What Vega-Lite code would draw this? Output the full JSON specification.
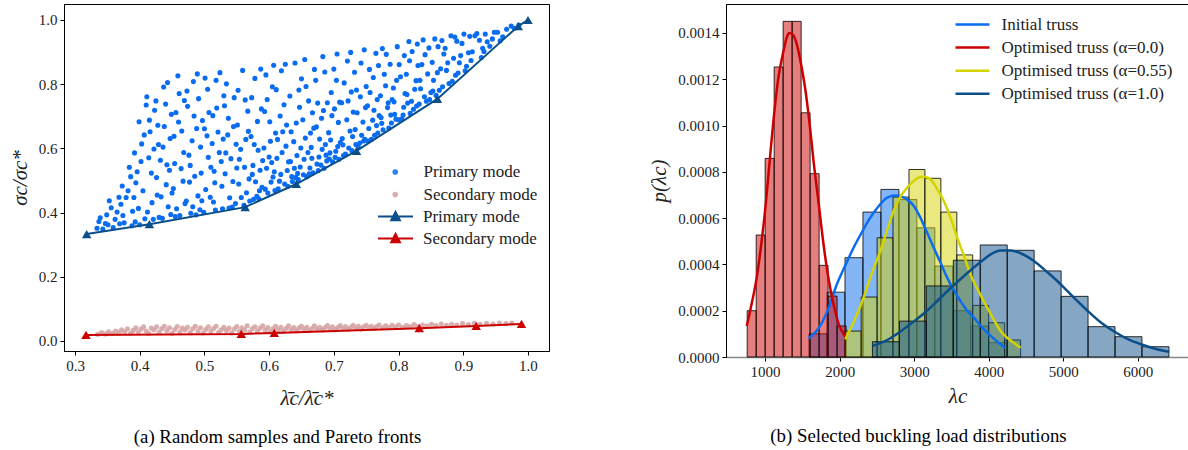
{
"$schema": "https://vega.github.io/schema/vega-lite/v6.json",
"padding": {"left": 8, "top": 3, "right": 0, "bottom": 0},
"bounds": "flush",
"spacing": 177,
"resolve": {"scale": {"color": "independent", "stroke": "independent", "fill": "independent"}},
"config": {
 "font": "Liberation Serif",
 "view": {"stroke": "black", "strokeWidth": 1},
 "style": {"guide-label": {"font": "Liberation Serif"}, "guide-title": {"font": "Liberation Serif"}},
 "axis": {"grid": false, "domainColor": "black", "domainWidth": 1, "tickColor": "black", "tickSize": 4, "labelFont": "Liberation Serif", "labelFontSize": 15, "labelColor": "#222", "labelPadding": 3, "titleFont": "Liberation Serif", "titleFontSize": 21, "titleFontWeight": "normal", "titleFontStyle": "italic", "titleColor": "#222"},
 "legend": {"labelFont": "Liberation Serif", "labelFontSize": 17, "labelColor": "#222", "labelLimit": 400},
 "title": {"font": "Liberation Serif", "fontSize": 18.8, "fontWeight": "normal", "color": "black"}
},
"datasets": {
 "prim": [
{"x":0.334,"y":0.351},{"x":0.347,"y":0.366},{"x":0.339,"y":0.384},{"x":0.343,"y":0.349},{"x":0.349,"y":0.393},{"x":0.337,"y":0.372},
{"x":0.356,"y":0.415},{"x":0.351,"y":0.362},{"x":0.368,"y":0.448},{"x":0.362,"y":0.379},{"x":0.359,"y":0.353},{"x":0.365,"y":0.402},{"x":0.353,"y":0.437},{"x":0.369,"y":0.365},
{"x":0.382,"y":0.468},{"x":0.374,"y":0.391},{"x":0.388,"y":0.359},{"x":0.371,"y":0.426},{"x":0.386,"y":0.512},{"x":0.379,"y":0.447},{"x":0.376,"y":0.368},{"x":0.389,"y":0.404},{"x":0.384,"y":0.541},{"x":0.373,"y":0.483},
{"x":0.403,"y":0.614},{"x":0.391,"y":0.447},{"x":0.408,"y":0.381},{"x":0.396,"y":0.527},{"x":0.399,"y":0.683},{"x":0.393,"y":0.371},{"x":0.405,"y":0.468},{"x":0.410,"y":0.735},{"x":0.398,"y":0.413},{"x":0.402,"y":0.559},{"x":0.394,"y":0.493},{"x":0.407,"y":0.642},{"x":0.400,"y":0.362},{"x":0.392,"y":0.586},
{"x":0.418,"y":0.523},{"x":0.425,"y":0.748},{"x":0.412,"y":0.402},{"x":0.429,"y":0.612},{"x":0.415,"y":0.688},{"x":0.421,"y":0.379},{"x":0.427,"y":0.455},{"x":0.414,"y":0.571},{"x":0.423,"y":0.719},{"x":0.419,"y":0.431},{"x":0.430,"y":0.385},{"x":0.416,"y":0.652},{"x":0.426,"y":0.509},{"x":0.411,"y":0.761},{"x":0.428,"y":0.672},{"x":0.422,"y":0.598},
{"x":0.437,"y":0.791},{"x":0.444,"y":0.418},{"x":0.432,"y":0.563},{"x":0.449,"y":0.706},{"x":0.441,"y":0.487},{"x":0.435,"y":0.382},{"x":0.447,"y":0.631},{"x":0.438,"y":0.668},{"x":0.443,"y":0.805},{"x":0.433,"y":0.449},{"x":0.446,"y":0.532},{"x":0.440,"y":0.738},{"x":0.448,"y":0.394},{"x":0.436,"y":0.604},{"x":0.442,"y":0.549},{"x":0.450,"y":0.461},
{"x":0.456,"y":0.712},{"x":0.462,"y":0.391},{"x":0.468,"y":0.587},{"x":0.452,"y":0.475},{"x":0.459,"y":0.826},{"x":0.465,"y":0.654},{"x":0.454,"y":0.553},{"x":0.470,"y":0.428},{"x":0.461,"y":0.771},{"x":0.457,"y":0.412},{"x":0.467,"y":0.498},{"x":0.453,"y":0.638},{"x":0.464,"y":0.537},{"x":0.469,"y":0.749},{"x":0.455,"y":0.388},{"x":0.460,"y":0.682},
{"x":0.476,"y":0.579},{"x":0.483,"y":0.808},{"x":0.472,"y":0.436},{"x":0.488,"y":0.662},{"x":0.479,"y":0.398},{"x":0.485,"y":0.513},{"x":0.474,"y":0.731},{"x":0.490,"y":0.452},{"x":0.481,"y":0.624},{"x":0.477,"y":0.495},{"x":0.487,"y":0.393},{"x":0.473,"y":0.779},{"x":0.484,"y":0.701},{"x":0.478,"y":0.547},{"x":0.489,"y":0.832},{"x":0.482,"y":0.418},
{"x":0.497,"y":0.687},{"x":0.493,"y":0.409},{"x":0.506,"y":0.572},{"x":0.501,"y":0.819},{"x":0.509,"y":0.448},{"x":0.495,"y":0.523},{"x":0.504,"y":0.639},{"x":0.491,"y":0.755},{"x":0.499,"y":0.401},{"x":0.507,"y":0.712},{"x":0.494,"y":0.604},{"x":0.502,"y":0.472},{"x":0.510,"y":0.541},{"x":0.496,"y":0.437},{"x":0.505,"y":0.784},{"x":0.500,"y":0.661},
{"x":0.516,"y":0.493},{"x":0.524,"y":0.836},{"x":0.512,"y":0.615},{"x":0.528,"y":0.412},{"x":0.519,"y":0.726},{"x":0.526,"y":0.559},{"x":0.514,"y":0.433},{"x":0.521,"y":0.651},{"x":0.530,"y":0.764},{"x":0.517,"y":0.408},{"x":0.527,"y":0.482},{"x":0.513,"y":0.702},{"x":0.523,"y":0.587},{"x":0.518,"y":0.812},{"x":0.529,"y":0.629},{"x":0.515,"y":0.529},
{"x":0.537,"y":0.694},{"x":0.543,"y":0.417},{"x":0.532,"y":0.521},{"x":0.549,"y":0.613},{"x":0.539,"y":0.446},{"x":0.546,"y":0.758},{"x":0.534,"y":0.801},{"x":0.541,"y":0.568},{"x":0.548,"y":0.428},{"x":0.536,"y":0.642},{"x":0.544,"y":0.497},{"x":0.531,"y":0.733},{"x":0.550,"y":0.539},{"x":0.538,"y":0.414},{"x":0.545,"y":0.668},{"x":0.533,"y":0.586},
{"x":0.557,"y":0.447},{"x":0.564,"y":0.628},{"x":0.552,"y":0.781},{"x":0.569,"y":0.505},{"x":0.561,"y":0.423},{"x":0.554,"y":0.566},{"x":0.567,"y":0.716},{"x":0.559,"y":0.843},{"x":0.565,"y":0.462},{"x":0.551,"y":0.673},{"x":0.562,"y":0.541},{"x":0.570,"y":0.436},{"x":0.556,"y":0.597},{"x":0.568,"y":0.653},{"x":0.553,"y":0.489},{"x":0.563,"y":0.751},
{"x":0.574,"y":0.519},{"x":0.581,"y":0.451},{"x":0.588,"y":0.723},{"x":0.572,"y":0.637},{"x":0.585,"y":0.468},{"x":0.578,"y":0.818},{"x":0.590,"y":0.562},{"x":0.576,"y":0.441},{"x":0.583,"y":0.594},{"x":0.579,"y":0.496},{"x":0.587,"y":0.847},{"x":0.573,"y":0.758},{"x":0.582,"y":0.684},{"x":0.589,"y":0.479},{"x":0.575,"y":0.547},{"x":0.584,"y":0.443},{"x":0.577,"y":0.612},{"x":0.586,"y":0.532},
{"x":0.594,"y":0.473},{"x":0.601,"y":0.683},{"x":0.608,"y":0.527},{"x":0.592,"y":0.601},{"x":0.605,"y":0.792},{"x":0.598,"y":0.461},{"x":0.610,"y":0.648},{"x":0.596,"y":0.538},{"x":0.603,"y":0.495},{"x":0.607,"y":0.859},{"x":0.593,"y":0.715},{"x":0.600,"y":0.573},{"x":0.609,"y":0.469},{"x":0.595,"y":0.829},{"x":0.602,"y":0.622},{"x":0.606,"y":0.511},{"x":0.597,"y":0.752},{"x":0.604,"y":0.556},
{"x":0.616,"y":0.498},{"x":0.623,"y":0.736},{"x":0.612,"y":0.569},{"x":0.629,"y":0.482},{"x":0.619,"y":0.842},{"x":0.626,"y":0.607},{"x":0.614,"y":0.474},{"x":0.621,"y":0.652},{"x":0.628,"y":0.531},{"x":0.617,"y":0.701},{"x":0.624,"y":0.489},{"x":0.611,"y":0.783},{"x":0.630,"y":0.558},{"x":0.618,"y":0.519},{"x":0.625,"y":0.862},{"x":0.613,"y":0.628},{"x":0.627,"y":0.673},{"x":0.620,"y":0.587},
{"x":0.635,"y":0.512},{"x":0.642,"y":0.679},{"x":0.648,"y":0.542},{"x":0.632,"y":0.763},{"x":0.645,"y":0.503},{"x":0.638,"y":0.621},{"x":0.650,"y":0.817},{"x":0.636,"y":0.497},{"x":0.643,"y":0.578},{"x":0.647,"y":0.728},{"x":0.633,"y":0.559},{"x":0.640,"y":0.866},{"x":0.649,"y":0.601},{"x":0.634,"y":0.652},{"x":0.644,"y":0.522},{"x":0.639,"y":0.538},{"x":0.646,"y":0.782},{"x":0.641,"y":0.509},
{"x":0.654,"y":0.566},{"x":0.661,"y":0.748},{"x":0.668,"y":0.524},{"x":0.652,"y":0.689},{"x":0.665,"y":0.603},{"x":0.658,"y":0.512},{"x":0.670,"y":0.846},{"x":0.656,"y":0.632},{"x":0.663,"y":0.539},{"x":0.667,"y":0.711},{"x":0.653,"y":0.518},{"x":0.660,"y":0.587},{"x":0.669,"y":0.663},{"x":0.655,"y":0.877},{"x":0.662,"y":0.521},{"x":0.666,"y":0.569},{"x":0.657,"y":0.793},{"x":0.664,"y":0.648},
{"x":0.674,"y":0.551},{"x":0.681,"y":0.694},{"x":0.688,"y":0.579},{"x":0.672,"y":0.812},{"x":0.685,"y":0.538},{"x":0.678,"y":0.629},{"x":0.690,"y":0.742},{"x":0.676,"y":0.531},{"x":0.683,"y":0.886},{"x":0.687,"y":0.612},{"x":0.673,"y":0.667},{"x":0.680,"y":0.548},{"x":0.689,"y":0.561},{"x":0.675,"y":0.741},{"x":0.682,"y":0.597},{"x":0.686,"y":0.838},{"x":0.677,"y":0.573},{"x":0.684,"y":0.718},
{"x":0.694,"y":0.586},{"x":0.701,"y":0.723},{"x":0.708,"y":0.566},{"x":0.692,"y":0.649},{"x":0.705,"y":0.894},{"x":0.698,"y":0.558},{"x":0.710,"y":0.618},{"x":0.696,"y":0.774},{"x":0.703,"y":0.591},{"x":0.707,"y":0.681},{"x":0.693,"y":0.567},{"x":0.700,"y":0.847},{"x":0.709,"y":0.744},{"x":0.695,"y":0.626},{"x":0.702,"y":0.572},{"x":0.706,"y":0.606},{"x":0.697,"y":0.702},{"x":0.704,"y":0.812},
{"x":0.714,"y":0.611},{"x":0.721,"y":0.872},{"x":0.728,"y":0.593},{"x":0.712,"y":0.742},{"x":0.725,"y":0.654},{"x":0.718,"y":0.582},{"x":0.730,"y":0.713},{"x":0.716,"y":0.804},{"x":0.723,"y":0.601},{"x":0.727,"y":0.776},{"x":0.713,"y":0.631},{"x":0.720,"y":0.689},{"x":0.729,"y":0.637},{"x":0.715,"y":0.578},{"x":0.722,"y":0.748},{"x":0.726,"y":0.899},
{"x":0.734,"y":0.612},{"x":0.741,"y":0.761},{"x":0.748,"y":0.628},{"x":0.732,"y":0.837},{"x":0.745,"y":0.682},{"x":0.738,"y":0.603},{"x":0.750,"y":0.793},{"x":0.736,"y":0.711},{"x":0.743,"y":0.641},{"x":0.747,"y":0.907},{"x":0.733,"y":0.659},{"x":0.740,"y":0.617},{"x":0.749,"y":0.727},{"x":0.735,"y":0.782},{"x":0.742,"y":0.866},{"x":0.746,"y":0.623},
{"x":0.754,"y":0.662},{"x":0.761,"y":0.821},{"x":0.768,"y":0.648},{"x":0.752,"y":0.733},{"x":0.765,"y":0.896},{"x":0.758,"y":0.628},{"x":0.770,"y":0.702},{"x":0.756,"y":0.774},{"x":0.763,"y":0.641},{"x":0.767,"y":0.752},{"x":0.753,"y":0.623},{"x":0.760,"y":0.688},{"x":0.769,"y":0.858},{"x":0.755,"y":0.846},{"x":0.762,"y":0.719},{"x":0.766,"y":0.671},
{"x":0.774,"y":0.678},{"x":0.781,"y":0.893},{"x":0.788,"y":0.704},{"x":0.772,"y":0.764},{"x":0.785,"y":0.663},{"x":0.778,"y":0.831},{"x":0.790,"y":0.752},{"x":0.776,"y":0.658},{"x":0.783,"y":0.727},{"x":0.787,"y":0.862},{"x":0.773,"y":0.696},{"x":0.780,"y":0.795},{"x":0.789,"y":0.679},{"x":0.775,"y":0.911},{"x":0.784,"y":0.742},
{"x":0.794,"y":0.706},{"x":0.801,"y":0.861},{"x":0.808,"y":0.728},{"x":0.792,"y":0.788},{"x":0.805,"y":0.692},{"x":0.798,"y":0.917},{"x":0.810,"y":0.771},{"x":0.796,"y":0.691},{"x":0.803,"y":0.823},{"x":0.807,"y":0.704},{"x":0.793,"y":0.745},{"x":0.800,"y":0.689},{"x":0.809,"y":0.889},{"x":0.797,"y":0.812},
{"x":0.814,"y":0.741},{"x":0.821,"y":0.902},{"x":0.828,"y":0.732},{"x":0.812,"y":0.831},{"x":0.825,"y":0.784},{"x":0.818,"y":0.709},{"x":0.830,"y":0.858},{"x":0.816,"y":0.933},{"x":0.823,"y":0.722},{"x":0.827,"y":0.811},{"x":0.813,"y":0.768},{"x":0.820,"y":0.747},{"x":0.829,"y":0.925},{"x":0.817,"y":0.873},
{"x":0.834,"y":0.786},{"x":0.841,"y":0.892},{"x":0.848,"y":0.752},{"x":0.832,"y":0.738},{"x":0.845,"y":0.832},{"x":0.838,"y":0.938},{"x":0.850,"y":0.774},{"x":0.836,"y":0.861},{"x":0.843,"y":0.747},{"x":0.847,"y":0.913},{"x":0.833,"y":0.812},{"x":0.840,"y":0.761},
{"x":0.854,"y":0.812},{"x":0.861,"y":0.917},{"x":0.868,"y":0.792},{"x":0.852,"y":0.868},{"x":0.865,"y":0.848},{"x":0.858,"y":0.765},{"x":0.870,"y":0.894},{"x":0.856,"y":0.941},{"x":0.863,"y":0.781},{"x":0.867,"y":0.936},{"x":0.853,"y":0.779},{"x":0.860,"y":0.836},
{"x":0.874,"y":0.843},{"x":0.881,"y":0.951},{"x":0.888,"y":0.828},{"x":0.872,"y":0.912},{"x":0.885,"y":0.881},{"x":0.878,"y":0.802},{"x":0.890,"y":0.934},{"x":0.876,"y":0.867},{"x":0.883,"y":0.809},{"x":0.887,"y":0.947},
{"x":0.894,"y":0.867},{"x":0.901,"y":0.956},{"x":0.908,"y":0.898},{"x":0.892,"y":0.835},{"x":0.905,"y":0.856},{"x":0.898,"y":0.927},{"x":0.910,"y":0.949},{"x":0.896,"y":0.889},{"x":0.903,"y":0.842},
{"x":0.914,"y":0.901},{"x":0.921,"y":0.958},{"x":0.928,"y":0.883},{"x":0.912,"y":0.874},{"x":0.925,"y":0.937},{"x":0.918,"y":0.951},{"x":0.930,"y":0.912},
{"x":0.934,"y":0.956},{"x":0.941,"y":0.918},{"x":0.948,"y":0.962},{"x":0.937,"y":0.932},{"x":0.945,"y":0.941},{"x":0.932,"y":0.902},
{"x":0.953,"y":0.962},{"x":0.961,"y":0.948},{"x":0.967,"y":0.971},{"x":0.957,"y":0.935},
{"x":0.974,"y":0.981},{"x":0.979,"y":0.974},{"x":0.986,"y":0.984}
 ],
 "sec": [
{"x":0.335,"y":0.021},{"x":0.341,"y":0.026},{"x":0.347,"y":0.022},{"x":0.352,"y":0.029},{"x":0.358,"y":0.024},{"x":0.363,"y":0.031},{"x":0.368,"y":0.026},{"x":0.372,"y":0.035},{"x":0.377,"y":0.029},{"x":0.381,"y":0.038},{"x":0.386,"y":0.024},{"x":0.390,"y":0.033},{"x":0.394,"y":0.041},{"x":0.398,"y":0.028},{"x":0.402,"y":0.037},{"x":0.406,"y":0.044},{"x":0.410,"y":0.031},{"x":0.414,"y":0.023},{"x":0.418,"y":0.040},{"x":0.422,"y":0.035},{"x":0.426,"y":0.044},{"x":0.430,"y":0.027},{"x":0.434,"y":0.038},{"x":0.438,"y":0.046},{"x":0.442,"y":0.032},{"x":0.446,"y":0.041},{"x":0.450,"y":0.024},{"x":0.454,"y":0.036},{"x":0.458,"y":0.045},{"x":0.462,"y":0.029},{"x":0.466,"y":0.040},{"x":0.470,"y":0.034},{"x":0.474,"y":0.043},{"x":0.478,"y":0.026},{"x":0.482,"y":0.038},{"x":0.486,"y":0.046},{"x":0.490,"y":0.031},{"x":0.494,"y":0.041},{"x":0.498,"y":0.025},{"x":0.502,"y":0.036},{"x":0.506,"y":0.044},{"x":0.510,"y":0.030},{"x":0.514,"y":0.039},{"x":0.518,"y":0.046},{"x":0.522,"y":0.027},{"x":0.526,"y":0.035},{"x":0.530,"y":0.043},{"x":0.534,"y":0.032},{"x":0.538,"y":0.040},{"x":0.542,"y":0.025},{"x":0.546,"y":0.037},{"x":0.550,"y":0.045},{"x":0.554,"y":0.030},{"x":0.558,"y":0.041},{"x":0.562,"y":0.034},{"x":0.566,"y":0.047},{"x":0.570,"y":0.028},{"x":0.574,"y":0.038},{"x":0.578,"y":0.044},{"x":0.582,"y":0.031},{"x":0.586,"y":0.040},{"x":0.590,"y":0.047},{"x":0.594,"y":0.033},{"x":0.598,"y":0.042},{"x":0.602,"y":0.029},{"x":0.606,"y":0.038},{"x":0.610,"y":0.046},{"x":0.614,"y":0.034},{"x":0.618,"y":0.043},{"x":0.622,"y":0.030},{"x":0.626,"y":0.039},{"x":0.630,"y":0.047},{"x":0.634,"y":0.035},{"x":0.638,"y":0.042},{"x":0.642,"y":0.031},{"x":0.646,"y":0.040},{"x":0.650,"y":0.046},{"x":0.654,"y":0.035},{"x":0.658,"y":0.043},{"x":0.662,"y":0.032},{"x":0.666,"y":0.039},{"x":0.670,"y":0.047},{"x":0.674,"y":0.036},{"x":0.678,"y":0.043},{"x":0.682,"y":0.034},{"x":0.686,"y":0.041},{"x":0.690,"y":0.048},{"x":0.694,"y":0.037},{"x":0.698,"y":0.044},{"x":0.702,"y":0.035},{"x":0.706,"y":0.042},{"x":0.710,"y":0.048},{"x":0.714,"y":0.038},{"x":0.718,"y":0.045},{"x":0.722,"y":0.036},{"x":0.726,"y":0.043},{"x":0.730,"y":0.049},{"x":0.734,"y":0.039},{"x":0.738,"y":0.046},{"x":0.742,"y":0.037},{"x":0.746,"y":0.044},{"x":0.750,"y":0.049},{"x":0.754,"y":0.040},{"x":0.758,"y":0.046},{"x":0.762,"y":0.039},{"x":0.766,"y":0.045},{"x":0.770,"y":0.050},{"x":0.775,"y":0.041},{"x":0.780,"y":0.047},{"x":0.785,"y":0.042},{"x":0.790,"y":0.049},{"x":0.795,"y":0.044},{"x":0.800,"y":0.050},{"x":0.806,"y":0.043},{"x":0.812,"y":0.048},{"x":0.818,"y":0.045},{"x":0.824,"y":0.051},{"x":0.830,"y":0.046},{"x":0.837,"y":0.050},{"x":0.844,"y":0.047},{"x":0.851,"y":0.052},{"x":0.858,"y":0.048},{"x":0.866,"y":0.053},{"x":0.874,"y":0.049},{"x":0.882,"y":0.052},{"x":0.890,"y":0.050},{"x":0.899,"y":0.054},{"x":0.908,"y":0.051},{"x":0.917,"y":0.055},{"x":0.926,"y":0.052},{"x":0.936,"y":0.055},{"x":0.946,"y":0.053},{"x":0.956,"y":0.056},{"x":0.966,"y":0.054},{"x":0.975,"y":0.056}
 ],
 "fronts": [
{"s":"Primary mode front","x":0.318,"y":0.333},{"s":"Primary mode front","x":0.415,"y":0.364},{"s":"Primary mode front","x":0.563,"y":0.417},{"s":"Primary mode front","x":0.642,"y":0.489},{"s":"Primary mode front","x":0.735,"y":0.592},{"s":"Primary mode front","x":0.86,"y":0.754},{"s":"Primary mode front","x":0.985,"y":0.981},{"s":"Primary mode front","x":1.0,"y":1.0},
{"s":"Secondary mode front","x":0.317,"y":0.019},{"s":"Secondary mode front","x":0.557,"y":0.022},{"s":"Secondary mode front","x":0.608,"y":0.025},{"s":"Secondary mode front","x":0.832,"y":0.04},{"s":"Secondary mode front","x":0.92,"y":0.047},{"s":"Secondary mode front","x":0.99,"y":0.053}
 ],
 "hist": [
{"series":"Initial truss","x0":1590,"x1":1831,"d":0.0001},{"series":"Initial truss","x0":1831,"x1":2072,"d":0.00028},{"series":"Initial truss","x0":2072,"x1":2313,"d":0.000429},{"series":"Initial truss","x0":2313,"x1":2554,"d":0.000626},{"series":"Initial truss","x0":2554,"x1":2795,"d":0.000724},{"series":"Initial truss","x0":2795,"x1":3036,"d":0.00068},{"series":"Initial truss","x0":3036,"x1":3277,"d":0.000558},{"series":"Initial truss","x0":3277,"x1":3518,"d":0.000393},{"series":"Initial truss","x0":3518,"x1":3759,"d":0.0002},{"series":"Initial truss","x0":3759,"x1":4000,"d":0.000134},{"series":"Initial truss","x0":4000,"x1":4241,"d":0.000062},
{"series":"Optimised truss (α=0.0)","x0":760,"x1":881,"d":0.0002},{"series":"Optimised truss (α=0.0)","x0":881,"x1":1001,"d":0.000527},{"series":"Optimised truss (α=0.0)","x0":1001,"x1":1122,"d":0.000858},{"series":"Optimised truss (α=0.0)","x0":1122,"x1":1242,"d":0.001253},{"series":"Optimised truss (α=0.0)","x0":1242,"x1":1363,"d":0.00145},{"series":"Optimised truss (α=0.0)","x0":1363,"x1":1484,"d":0.00145},{"series":"Optimised truss (α=0.0)","x0":1484,"x1":1604,"d":0.001055},{"series":"Optimised truss (α=0.0)","x0":1604,"x1":1725,"d":0.000792},{"series":"Optimised truss (α=0.0)","x0":1725,"x1":1845,"d":0.000396},{"series":"Optimised truss (α=0.0)","x0":1845,"x1":1966,"d":0.000263},{"series":"Optimised truss (α=0.0)","x0":1966,"x1":2087,"d":0.000134},
{"series":"Optimised truss (α=0.55)","x0":2075,"x1":2289,"d":0.000112},{"series":"Optimised truss (α=0.55)","x0":2289,"x1":2503,"d":0.000259},{"series":"Optimised truss (α=0.55)","x0":2503,"x1":2716,"d":0.000515},{"series":"Optimised truss (α=0.55)","x0":2716,"x1":2930,"d":0.000691},{"series":"Optimised truss (α=0.55)","x0":2930,"x1":3144,"d":0.00081},{"series":"Optimised truss (α=0.55)","x0":3144,"x1":3358,"d":0.000772},{"series":"Optimised truss (α=0.55)","x0":3358,"x1":3572,"d":0.000626},{"series":"Optimised truss (α=0.55)","x0":3572,"x1":3785,"d":0.000441},{"series":"Optimised truss (α=0.55)","x0":3785,"x1":3999,"d":0.000223},{"series":"Optimised truss (α=0.55)","x0":3999,"x1":4213,"d":0.000148},{"series":"Optimised truss (α=0.55)","x0":4213,"x1":4427,"d":0.0000734},
{"series":"Optimised truss (α=1.0)","x0":2440,"x1":2802,"d":0.000066},{"series":"Optimised truss (α=1.0)","x0":2802,"x1":3163,"d":0.000155},{"series":"Optimised truss (α=1.0)","x0":3163,"x1":3525,"d":0.000307},{"series":"Optimised truss (α=1.0)","x0":3525,"x1":3886,"d":0.000418},{"series":"Optimised truss (α=1.0)","x0":3886,"x1":4248,"d":0.000484},{"series":"Optimised truss (α=1.0)","x0":4248,"x1":4609,"d":0.000461},{"series":"Optimised truss (α=1.0)","x0":4609,"x1":4971,"d":0.000372},{"series":"Optimised truss (α=1.0)","x0":4971,"x1":5332,"d":0.000262},{"series":"Optimised truss (α=1.0)","x0":5332,"x1":5694,"d":0.000131},{"series":"Optimised truss (α=1.0)","x0":5694,"x1":6055,"d":0.0000877},{"series":"Optimised truss (α=1.0)","x0":6055,"x1":6417,"d":0.0000445}
 ],
 "kde": [
{"series":"Initial truss","x":1582,"d":0.00008},{"series":"Initial truss","x":1739,"d":0.000134},{"series":"Initial truss","x":1850,"d":0.00021},{"series":"Initial truss","x":1963,"d":0.000314},{"series":"Initial truss","x":2075,"d":0.000395},{"series":"Initial truss","x":2187,"d":0.000472},{"series":"Initial truss","x":2300,"d":0.00054},{"series":"Initial truss","x":2411,"d":0.000602},{"series":"Initial truss","x":2520,"d":0.00065},{"series":"Initial truss","x":2635,"d":0.000688},{"series":"Initial truss","x":2747,"d":0.000698},{"series":"Initial truss","x":2830,"d":0.000693},{"series":"Initial truss","x":2904,"d":0.000681},{"series":"Initial truss","x":3000,"d":0.00065},{"series":"Initial truss","x":3083,"d":0.000602},{"series":"Initial truss","x":3170,"d":0.00054},{"series":"Initial truss","x":3262,"d":0.000472},{"series":"Initial truss","x":3350,"d":0.00041},{"series":"Initial truss","x":3442,"d":0.000343},{"series":"Initial truss","x":3530,"d":0.00029},{"series":"Initial truss","x":3621,"d":0.000242},{"series":"Initial truss","x":3710,"d":0.0002},{"series":"Initial truss","x":3800,"d":0.00017},{"series":"Initial truss","x":3890,"d":0.000135},{"series":"Initial truss","x":3980,"d":0.000105},{"series":"Initial truss","x":4100,"d":0.00007},{"series":"Initial truss","x":4216,"d":0.00004},
{"series":"Optimised truss (α=0.0)","x":754,"d":0.000134},{"series":"Optimised truss (α=0.0)","x":820,"d":0.00023},{"series":"Optimised truss (α=0.0)","x":888,"d":0.000343},{"series":"Optimised truss (α=0.0)","x":950,"d":0.00049},{"series":"Optimised truss (α=0.0)","x":1000,"d":0.000631},{"series":"Optimised truss (α=0.0)","x":1060,"d":0.00084},{"series":"Optimised truss (α=0.0)","x":1112,"d":0.00102},{"series":"Optimised truss (α=0.0)","x":1180,"d":0.00121},{"series":"Optimised truss (α=0.0)","x":1246,"d":0.00132},{"series":"Optimised truss (α=0.0)","x":1290,"d":0.00138},{"series":"Optimised truss (α=0.0)","x":1327,"d":0.0014},{"series":"Optimised truss (α=0.0)","x":1380,"d":0.00139},{"series":"Optimised truss (α=0.0)","x":1426,"d":0.00135},{"series":"Optimised truss (α=0.0)","x":1480,"d":0.00127},{"series":"Optimised truss (α=0.0)","x":1538,"d":0.00116},{"series":"Optimised truss (α=0.0)","x":1600,"d":0.001},{"series":"Optimised truss (α=0.0)","x":1650,"d":0.000847},{"series":"Optimised truss (α=0.0)","x":1720,"d":0.00066},{"series":"Optimised truss (α=0.0)","x":1784,"d":0.000487},{"series":"Optimised truss (α=0.0)","x":1850,"d":0.00034},{"series":"Optimised truss (α=0.0)","x":1918,"d":0.000228},{"series":"Optimised truss (α=0.0)","x":1990,"d":0.00014},{"series":"Optimised truss (α=0.0)","x":2075,"d":0.00009},
{"series":"Optimised truss (α=0.55)","x":2075,"d":0.0000764},{"series":"Optimised truss (α=0.55)","x":2200,"d":0.00016},{"series":"Optimised truss (α=0.55)","x":2321,"d":0.000256},{"series":"Optimised truss (α=0.55)","x":2430,"d":0.00036},{"series":"Optimised truss (α=0.55)","x":2546,"d":0.000458},{"series":"Optimised truss (α=0.55)","x":2640,"d":0.00055},{"series":"Optimised truss (α=0.55)","x":2724,"d":0.000631},{"series":"Optimised truss (α=0.55)","x":2810,"d":0.00069},{"series":"Optimised truss (α=0.55)","x":2904,"d":0.000731},{"series":"Optimised truss (α=0.55)","x":3000,"d":0.000762},{"series":"Optimised truss (α=0.55)","x":3083,"d":0.000778},{"series":"Optimised truss (α=0.55)","x":3150,"d":0.000778},{"series":"Optimised truss (α=0.55)","x":3218,"d":0.000768},{"series":"Optimised truss (α=0.55)","x":3300,"d":0.00073},{"series":"Optimised truss (α=0.55)","x":3397,"d":0.000674},{"series":"Optimised truss (α=0.55)","x":3490,"d":0.0006},{"series":"Optimised truss (α=0.55)","x":3577,"d":0.000515},{"series":"Optimised truss (α=0.55)","x":3665,"d":0.00044},{"series":"Optimised truss (α=0.55)","x":3755,"d":0.000357},{"series":"Optimised truss (α=0.55)","x":3870,"d":0.00028},{"series":"Optimised truss (α=0.55)","x":3980,"d":0.000213},{"series":"Optimised truss (α=0.55)","x":4070,"d":0.00016},{"series":"Optimised truss (α=0.55)","x":4159,"d":0.000112},{"series":"Optimised truss (α=0.55)","x":4248,"d":0.000083},{"series":"Optimised truss (α=0.55)","x":4340,"d":0.00006},{"series":"Optimised truss (α=0.55)","x":4427,"d":0.00004},
{"series":"Optimised truss (α=1.0)","x":2440,"d":0.000048},{"series":"Optimised truss (α=1.0)","x":2630,"d":0.000072},{"series":"Optimised truss (α=1.0)","x":2815,"d":0.00011},{"series":"Optimised truss (α=1.0)","x":3000,"d":0.000155},{"series":"Optimised truss (α=1.0)","x":3173,"d":0.0002},{"series":"Optimised truss (α=1.0)","x":3350,"d":0.000255},{"series":"Optimised truss (α=1.0)","x":3531,"d":0.00031},{"series":"Optimised truss (α=1.0)","x":3710,"d":0.000362},{"series":"Optimised truss (α=1.0)","x":3890,"d":0.00041},{"series":"Optimised truss (α=1.0)","x":4020,"d":0.000442},{"series":"Optimised truss (α=1.0)","x":4159,"d":0.00046},{"series":"Optimised truss (α=1.0)","x":4293,"d":0.00046},{"series":"Optimised truss (α=1.0)","x":4450,"d":0.000445},{"series":"Optimised truss (α=1.0)","x":4606,"d":0.000415},{"series":"Optimised truss (α=1.0)","x":4780,"d":0.000368},{"series":"Optimised truss (α=1.0)","x":4965,"d":0.000314},{"series":"Optimised truss (α=1.0)","x":5145,"d":0.000255},{"series":"Optimised truss (α=1.0)","x":5324,"d":0.0002},{"series":"Optimised truss (α=1.0)","x":5500,"d":0.00015},{"series":"Optimised truss (α=1.0)","x":5682,"d":0.00011},{"series":"Optimised truss (α=1.0)","x":5860,"d":0.000078},{"series":"Optimised truss (α=1.0)","x":6040,"d":0.000055},{"series":"Optimised truss (α=1.0)","x":6230,"d":0.000036},{"series":"Optimised truss (α=1.0)","x":6421,"d":0.000023}
 ]
},
"hconcat": [
 {
  "width": 485, "height": 347,
  "title": {"text": "(a) Random samples and Pareto fronts", "orient": "bottom", "anchor": "middle", "dx": -29, "offset": 20},
  "layer": [
   {"data": {"name": "prim"}, "mark": {"type": "circle", "size": 26, "opacity": 1},
    "encoding": {
     "x": {"field": "x", "type": "quantitative", "scale": {"domain": [0.283, 1.0325], "nice": false, "zero": false}, "axis": {"values": [0.3,0.4,0.5,0.6,0.7,0.8,0.9,1.0], "format": ".1f", "title": "λ̄c/λ̄c*", "titlePadding": 14, "labelFont": "Liberation Serif", "titleFont": "Liberation Serif"}},
     "y": {"field": "y", "type": "quantitative", "scale": {"domain": [-0.0312, 1.0498], "nice": false, "zero": false}, "axis": {"values": [0,0.2,0.4,0.6,0.8,1.0], "format": ".1f", "title": "σc/σc*", "titlePadding": 8, "labelFont": "Liberation Serif", "titleFont": "Liberation Serif"}},
     "color": {"datum": "Primary mode", "type": "nominal", "title": null,
      "scale": {"domain": ["Primary mode", "Secondary mode"], "range": ["#0a6cf0", "#d4a0a0"]},
      "legend": {"orient": "none", "legendX": 322.75, "legendY": 159.5, "title": null, "symbolType": "circle", "symbolSize": 32, "labelOffset": 19.75, "rowPadding": 4.5, "symbolOpacity": 1}
     }
    }
   },
   {"data": {"name": "sec"}, "mark": {"type": "circle", "size": 26, "opacity": 0.85},
    "encoding": {"x": {"field": "x", "type": "quantitative"}, "y": {"field": "y", "type": "quantitative"}, "color": {"datum": "Secondary mode", "type": "nominal", "title": null}}},
   {"data": {"name": "fronts"}, "mark": {"type": "line", "strokeWidth": 2},
    "encoding": {"x": {"field": "x", "type": "quantitative"}, "y": {"field": "y", "type": "quantitative"},
     "stroke": {"field": "s", "type": "nominal", "title": null,
      "scale": {"domain": ["Primary mode front", "Secondary mode front"], "range": ["#0b4f8a", "#cc0000"]},
      "legend": {"orient": "none", "legendX": 321.5, "legendY": 202.5, "title": null, "symbolType": "M-2,0H2M-0.5,0.44L0,-0.52L0.5,0.44ZM-0.28,0.3L0,-0.22L0.28,0.3ZM0,0.3L0,0", "symbolSize": 306, "symbolStrokeWidth": 2, "labelOffset": 17.5, "rowPadding": 4, "labelExpr": "replace(datum.label, ' front', '')"}
     }}},
   {"data": {"name": "fronts"}, "mark": {"type": "point", "shape": "triangle-up", "filled": true, "size": 90, "opacity": 1},
    "encoding": {"x": {"field": "x", "type": "quantitative"}, "y": {"field": "y", "type": "quantitative"},
     "fill": {"field": "s", "type": "nominal", "scale": {"domain": ["Primary mode front", "Secondary mode front"], "range": ["#0b4f8a", "#cc0000"]}, "legend": null}}}
  ]
 },
 {
  "width": 463, "height": 353,
  "title": {"text": "(b) Selected buckling load distributions", "orient": "bottom", "anchor": "middle", "dx": -39, "offset": 21},
  "layer": [
   {"data": {"name": "hist"}, "mark": {"type": "rect", "fillOpacity": 0.5, "stroke": "black", "strokeWidth": 1, "strokeOpacity": 0.8},
    "encoding": {
     "x": {"field": "x0", "type": "quantitative", "scale": {"domain": [476, 6686], "nice": false, "zero": false}, "axis": {"values": [1000,2000,3000,4000,5000,6000], "format": "d", "title": "λc", "titlePadding": 6, "domainColor": "#888", "domainWidth": 1.5, "labelFont": "Liberation Serif", "titleFont": "Liberation Serif"}},
     "x2": {"field": "x1"},
     "y": {"field": "d", "type": "quantitative", "scale": {"domain": [0, 0.001525], "nice": false}, "axis": {"values": [0,0.0002,0.0004,0.0006,0.0008,0.001,0.0012,0.0014], "format": ".4f", "title": "p(λc)", "titlePadding": 8, "labelFont": "Liberation Serif", "titleFont": "Liberation Serif"}},
     "y2": {"datum": 0},
     "color": {"field": "series", "type": "nominal", "title": null,
      "scale": {"domain": ["Initial truss", "Optimised truss (α=0.0)", "Optimised truss (α=0.55)", "Optimised truss (α=1.0)"], "range": ["#0a6cf0", "#cc0000", "#d4d400", "#0b4f8a"]},
      "legend": {"orient": "none", "legendX": 236.5, "legendY": 10.5, "title": null, "symbolType": "M-2,0H2", "symbolSize": 289, "symbolStrokeWidth": 2.5, "labelOffset": 19, "rowPadding": 5.1, "labelLimit": 400,
       "encode": {"symbols": {
        "stroke": {"condition": [{"test": "datum.value==='Initial truss'", "value": "#0a6cf0"}, {"test": "datum.value==='Optimised truss (α=0.0)'", "value": "#cc0000"}, {"test": "datum.value==='Optimised truss (α=0.55)'", "value": "#d4d400"}], "value": "#0b4f8a"},
        "strokeWidth": {"value": 2.5}, "opacity": {"value": 1}
       }}
      }
     }
    }
   },
   {"data": {"name": "kde"}, "mark": {"type": "line", "strokeWidth": 2.5, "interpolate": "monotone"},
    "encoding": {"x": {"field": "x", "type": "quantitative"}, "y": {"field": "d", "type": "quantitative"}, "color": {"field": "series", "type": "nominal", "title": null}}}
  ]
 }
]
}
